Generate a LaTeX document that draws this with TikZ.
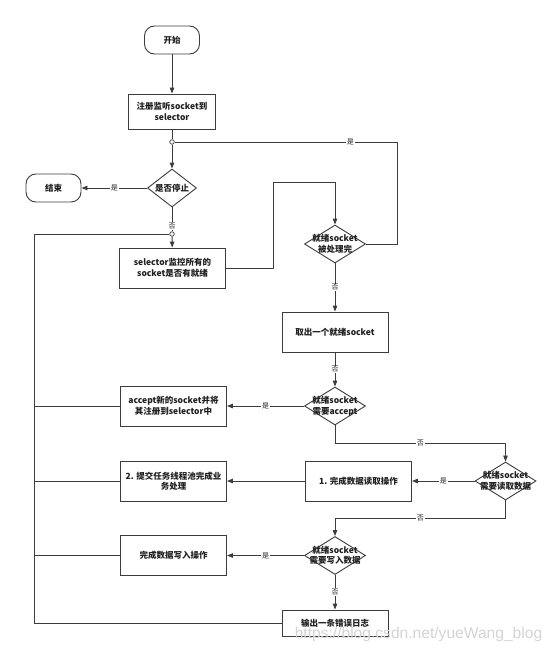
\documentclass[tikz,border=0pt]{standalone}
\usepackage{fontspec}
\setmainfont{Noto Sans CJK SC}
\newfontfamily\markfont{Liberation Sans}
\usepackage{tikz}
\usetikzlibrary{arrows.meta, positioning, shapes.geometric}
\definecolor{mylinecolor}{HTML}{3C3C3C}
\definecolor{mytextcolor}{HTML}{202020}
\tikzset{
	mytext/.style = {align=center, text=mytextcolor, font=\fontsize{8.5}{10.5}\selectfont\bfseries},
	mybox/.style = {mytext, draw=mylinecolor, fill=white, line width=0.9pt, minimum width=106pt, minimum height=40pt, inner sep=1pt},
	myterminal/.style = {mybox, rounded corners=10pt, minimum width=55pt, minimum height=28pt},
	mydecision/.style = {diamond, draw=mylinecolor, fill=white, line width=0.9pt, minimum width=61pt, minimum height=38pt, inner sep=0pt},
	mydtext/.style = {mytext, inner sep=0pt},
	myjoint/.style = {circle, draw=mylinecolor, fill=white, line width=0.7pt, inner sep=0pt, minimum size=4.5pt},
	myyn/.style = {fill=white, inner sep=0.8pt, text=mytextcolor, font=\fontsize{7}{8}\selectfont},
	myline/.style = {draw=mylinecolor, line width=0.9pt},
	myarrow/.style = {myline, -{Triangle[length=6pt,width=4.5pt]}},
}
\begin{document}
\begin{tikzpicture}[x=1pt, y=-1pt]
\useasboundingbox[fill=white] (0,0) rectangle (553,653);
% left column
\node[myterminal] (start) at (172,40) {开始};
\node[mybox, minimum width=87pt, minimum height=35pt] (reg) at (172,111.5) {注册监听socket到\\selector};
\node[myjoint] (j1) at (172,142) {};
\node[mydecision, minimum width=49pt, label={[mydtext]center:是否停止}] (stop) at (172,188) {};
\node[myterminal] (end) at (53.5,188) {结束};
\node[myjoint] (j2) at (172,234) {};
\node[mybox] (sel) at (172.5,268) {selector监控所有的\\socket是否有就绪};
\node[mybox] (accbox) at (173.5,406) {accept新的socket并将\\其注册到selector中};
\node[mybox] (bizbox) at (173.5,481) {2. 提交任务线程池完成业\\务处理};
\node[mybox] (wrbox) at (173.5,555.5) {完成数据写入操作};
% middle and right columns
\node[mydecision, label={[mydtext]center:{就绪socket\\被处理完}}] (ready) at (335,244) {};
\node[mybox] (take) at (335,332) {取出一个就绪socket};
\node[mydecision, label={[mydtext]center:{就绪socket\\需要accept}}] (acc) at (335,406) {};
\node[mydecision, label={[mydtext]center:{就绪socket\\需要读取数据}}] (read) at (505.5,481) {};
\node[mybox] (rdbox) at (358.5,481) {1. 完成数据读取操作};
\node[mydecision, label={[mydtext]center:{就绪socket\\需要写入数据}}] (write) at (335,555.5) {};
\node[mybox, minimum height=26pt] (err) at (335,623) {输出一条错误日志};
\coordinate (selup) at (273,182);
\coordinate (readyr) at (397,142);
\coordinate (accd) at (335,443);
\coordinate (readd) at (505.5,518);
\coordinate (lbot) at (34.5,623);
\coordinate (ltop) at (34.5,234);
% connectors
\draw[myarrow] (start) -- (reg);
\draw[myline] (reg) -- (j1);
\draw[myarrow] (j1) -- (stop);
\draw[myarrow] (stop.west) -- node[myyn]{是} (end.east);
\draw[myline] (stop.south) -- node[myyn, pos=0.78]{否} (j2);
\draw[myarrow] (j2) -- (sel);
\draw[myarrow] (sel.east) -| (selup) -| (ready.north);
\draw[myline] (ready.east) -| (readyr) -- node[myyn, pos=0.21]{是} (j1);
\draw[myarrow] (ready.south) -- node[myyn]{否} (take.north);
\draw[myarrow] (take.south) -- node[myyn]{否} (acc.north);
\draw[myarrow] (acc.west) -- node[myyn]{是} (accbox.east);
\draw[myarrow] (acc.south) -- (accd) -| node[myyn, pos=0.25]{否} (read.north);
\draw[myarrow] (read.west) -- node[myyn]{是} (rdbox.east);
\draw[myarrow] (rdbox.west) -- (bizbox.east);
\draw[myarrow] (read.south) -- (readd) -| node[myyn, pos=0.25]{否} (write.north);
\draw[myarrow] (write.west) -- node[myyn]{是} (wrbox.east);
\draw[myarrow] (write.south) -- node[myyn]{否} (err.north);
% loop back on the left
\draw[myline] (err.west) -- (lbot) -- (ltop) -- (j2);
\draw[myline] (accbox.west) -- (accbox.west -| ltop);
\draw[myline] (bizbox.west) -- (bizbox.west -| ltop);
\draw[myline] (wrbox.west) -- (wrbox.west -| ltop);
\node[text=black!17, font=\markfont\fontsize{15.6}{15.6}\selectfont, inner sep=0pt] (mark) at (418.5,634) {https://blog.csdn.net/yueWang\_blog};
\end{tikzpicture}
\end{document}
